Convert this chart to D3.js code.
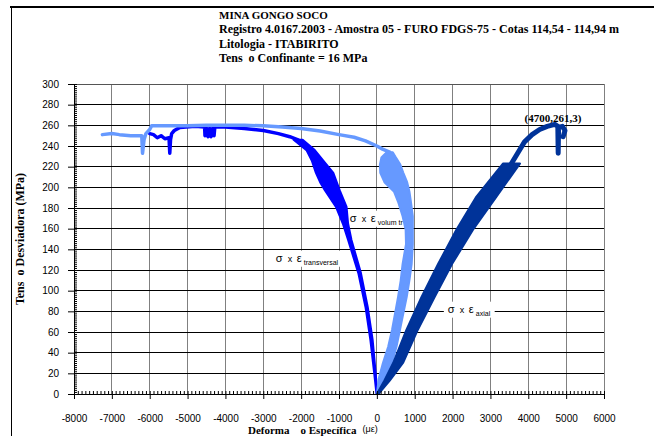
<!DOCTYPE html>
<html>
<head>
<meta charset="utf-8">
<script src="https://cdn.jsdelivr.net/npm/d3@7"></script>
<style>
body { margin: 0; background: #fff; }
svg { display: block; }
text { white-space: pre; }
</style>
</head>
<body>
<script>
var titleLines = [
  "MINA GONGO SOCO",
  "Registro 4.0167.2003 - Amostra 05 - FURO FDGS-75 - Cotas 114,54 - 114,94 m",
  "Litologia - ITABIRITO",
  "Tens  o Confinante = 16 MPa"
];

var xTicks = [-8000, -7000, -6000, -5000, -4000, -3000, -2000, -1000, 0, 1000, 2000, 3000, 4000, 5000, 6000];
var yTicks = [0, 20, 40, 60, 80, 100, 120, 140, 160, 180, 200, 220, 240, 260, 280, 300];

// bands: [stress, strain left edge, strain right edge]
var transBand = [
  [0, -10, 10], [20, -70, -30], [52, -170, -110], [84, -300, -240], [117, -490, -420],
  [149, -760, -670], [165, -900, -760], [181, -1080, -800], [197, -1370, -980],
  [205, -1500, -1060], [214, -1610, -1150], [226, -1720, -1420], [236, -1860, -1640],
  [246, -2200, -1960]
];
// upper part of the curves: [strain, stress]
var transTop = [
  [-2080, 246], [-2300, 249], [-2600, 252], [-3000, 255], [-3500, 257], [-4000, 258.5],
  [-4280, 258.5], [-4300, 250], [-4340, 257], [-4380, 249], [-4420, 257], [-4460, 249],
  [-4500, 257], [-4540, 250], [-4550, 258.5], [-4800, 259],
  [-5200, 258], [-5350, 255], [-5420, 252], [-5450, 246], [-5470, 233], [-5490, 248],
  [-5600, 247], [-5700, 250], [-5800, 248], [-5900, 251], [-6000, 252]
];

var volBand = [
  [0, 0, 50], [15, 50, 230], [30, 160, 400], [46, 300, 520], [62, 400, 610],
  [78, 480, 700], [94, 560, 790], [110, 630, 860], [126, 680, 920], [145, 770, 950],
  [159, 760, 950], [172, 680, 950], [186, 560, 900], [196, 450, 860], [205, 200, 800],
  [214, 90, 700], [222, 80, 620], [229, 120, 500], [234, 260, 420]
];
var volTop = [
  [340, 234], [150, 237], [0, 240], [-300, 245], [-600, 248.5], [-1000, 251], [-1500, 254.5],
  [-2000, 257], [-2500, 258.5], [-3000, 259.5], [-3500, 260], [-4000, 260], [-4500, 260],
  [-5000, 259.5], [-5500, 259.5], [-5950, 259.5], [-6000, 256], [-6100, 252], [-6150, 246],
  [-6190, 233], [-6210, 250], [-6300, 250], [-6500, 250], [-6800, 251], [-7000, 252], [-7250, 251]
];

var axialBand = [
  [0, 0, 40], [13, 200, 340], [30, 430, 690], [62, 780, 1080], [94, 1180, 1530],
  [126, 1620, 1990], [159, 2100, 2540], [191, 2630, 3160], [223, 3330, 3780]
];
var axialTop = [
  [3555, 223], [3750, 235], [3900, 244], [4100, 251], [4300, 256], [4500, 259],
  [4700, 261], [4780, 259], [4790, 233], [4800, 258], [4900, 259], [4970, 255], [4920, 249]
];

var W = 654, H = 436;
var svg = d3.select("body").append("svg")
    .attr("width", W)
    .attr("height", H);

// outer frame
svg.append("line").attr("x1", 10).attr("x2", W).attr("y1", 7).attr("y2", 7)
    .attr("stroke", "#000").attr("stroke-width", 2);
svg.append("line").attr("x1", 11.5).attr("x2", 11.5).attr("y1", 7).attr("y2", H)
    .attr("stroke", "#000").attr("stroke-width", 1);

// title
svg.append("g").selectAll("text")
    .data(titleLines)
  .enter().append("text")
    .attr("x", 219)
    .attr("y", function(d, i) { return 18.5 + i * 14.5; })
    .attr("font-family", "Liberation Serif, Times New Roman, serif")
    .attr("font-weight", "bold")
    .attr("font-size", function(d, i) { return i === 0 ? 11 : 12; })
    .text(function(d) { return d; });

var x = d3.scaleLinear().domain([-8000, 6000]).range([74, 604]),
    y = d3.scaleLinear().domain([0, 300]).range([394, 84]);

// grid
var grid = svg.append("g").attr("shape-rendering", "crispEdges");
grid.selectAll(".vg")
    .data(xTicks.slice(1))
  .enter().append("line")
    .attr("x1", function(d) { return x(d); }).attr("x2", function(d) { return x(d); })
    .attr("y1", y(300)).attr("y2", y(0))
    .attr("stroke", "#808080");
grid.selectAll(".hg")
    .data(yTicks.slice(1))
  .enter().append("line")
    .attr("x1", x(-8000)).attr("x2", x(6000))
    .attr("y1", function(d) { return y(d); }).attr("y2", function(d) { return y(d); })
    .attr("stroke", function(d) { return d === 300 ? "#555" : "#000"; });

// curve labels (drawn under the curves)
function addLabel(sx, sy, sub) {
  var g = svg.append("g");
  var bg = g.append("rect").attr("fill", "#fff");
  var t = g.append("text")
      .attr("font-family", "Liberation Sans, Arial, sans-serif")
      .attr("font-size", 11)
      .attr("y", y(sy));
  t.append("tspan").attr("x", x(sx)).text("σ");
  t.append("tspan").attr("x", x(sx) + 12).attr("font-size", 9).text("x");
  t.append("tspan").attr("x", x(sx) + 21).text("ε");
  t.append("tspan").attr("x", x(sx) + 28).attr("dy", 3).attr("font-size", 7).text(sub);
  var b = t.node().getBBox();
  bg.attr("x", b.x - 4).attr("y", b.y - 1).attr("width", b.width + 8).attr("height", b.height + 2);
}
addLabel(-713, 166.7, "volum tr");
addLabel(-2668, 128, "transversal");
addLabel(1875, 78.7, "axial");

// curves
var area = d3.area()
    .y(function(d) { return y(d[0]); })
    .x0(function(d) { return x(d[1]); })
    .x1(function(d) { return x(d[2]); });
var line = d3.line()
    .x(function(d) { return x(d[0]); })
    .y(function(d) { return y(d[1]); });

function drawCurve(band, top, color, w) {
  svg.append("path").attr("d", area(band))
      .attr("fill", color).attr("stroke", color).attr("stroke-width", 2)
      .attr("stroke-linejoin", "round");
  svg.append("path").attr("d", line(top))
      .attr("fill", "none").attr("stroke", color).attr("stroke-width", w)
      .attr("stroke-linejoin", "round").attr("stroke-linecap", "round");
}
drawCurve(transBand, transTop, "#0000ff", 3.5);
drawCurve(volBand, volTop, "#6699ff", 3.5);
drawCurve(axialBand, axialTop, "#003399", 5);

// axes
var axes = svg.append("g").attr("font-family", "Liberation Sans, Arial, sans-serif");

axes.append("g")
    .attr("transform", "translate(" + x(-8000) + ",0)")
    .call(d3.axisLeft(y).tickValues(yTicks).tickSize(6).tickPadding(9).tickSizeOuter(0));
axes.append("g")
    .attr("transform", "translate(" + x(-8000) + ",0)")
    .call(d3.axisRight(y).tickValues(d3.range(0, 301, 2)).tickSize(3).tickFormat("").tickSizeOuter(0));

axes.append("g")
    .attr("transform", "translate(0," + y(0) + ")")
    .call(d3.axisBottom(x).tickValues(xTicks).tickFormat(function(d) { return String(d); })
      .tickSize(5).tickPadding(16).tickSizeOuter(0));
axes.append("g")
    .attr("transform", "translate(0," + y(0) + ")")
    .call(d3.axisTop(x).tickValues(d3.range(-8000, 6001, 100)).tickSize(3).tickFormat("").tickSizeOuter(0));

axes.selectAll("text").attr("font-size", 10).attr("fill", "#000")
    .attr("font-family", "Liberation Sans, Arial, sans-serif");
axes.selectAll(".domain, line").attr("stroke", "#000");

// axis titles
svg.append("text")
    .attr("transform", "translate(24,239) rotate(-90)")
    .attr("text-anchor", "middle")
    .attr("font-family", "Liberation Serif, Times New Roman, serif")
    .attr("font-weight", "bold")
    .attr("font-size", 12)
    .text("Tens  o Desviadora (MPa)");

var xt = svg.append("text")
    .attr("x", 248)
    .attr("y", 434)
    .attr("font-family", "Liberation Serif, Times New Roman, serif")
    .attr("font-weight", "bold")
    .attr("font-size", 11);
xt.append("tspan").text("Deforma    o Específica");
xt.append("tspan").attr("dx", 6).attr("dy", -2).attr("font-weight", "normal").attr("font-size", 9)
    .attr("font-family", "Liberation Sans, Arial, sans-serif").text("(με)");

// peak annotation
svg.append("text")
    .attr("x", x(4650))
    .attr("y", y(263.5))
    .attr("text-anchor", "middle")
    .attr("font-family", "Liberation Serif, Times New Roman, serif")
    .attr("font-weight", "bold")
    .attr("font-size", 11)
    .text("(4700,261,3)");
</script>
</body>
</html>
